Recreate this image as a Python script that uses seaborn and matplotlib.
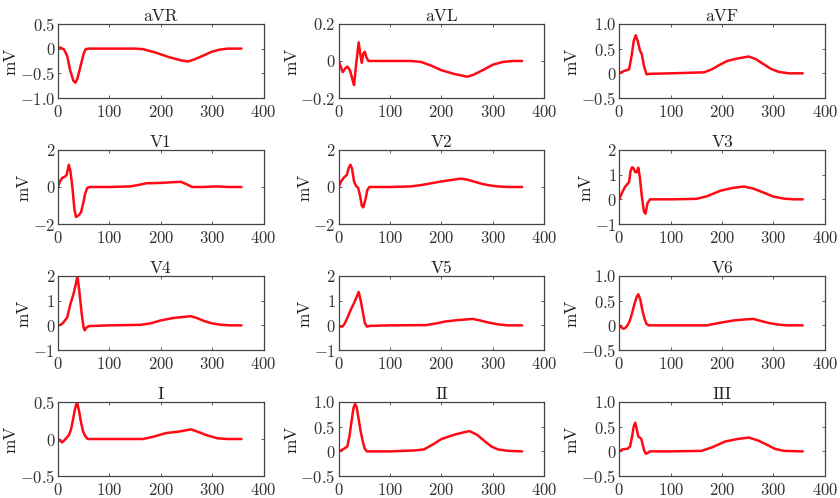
import matplotlib
matplotlib.use("Agg")
import matplotlib.pyplot as plt
import seaborn as sns

leads = ["aVR", "aVL", "aVF", "V1", "V2", "V3", "V4", "V5", "V6", "I", "II", "III"]

avr_x = [0, 5, 12, 18, 24, 30, 34, 38, 44, 50, 54, 60, 100, 150, 165, 190, 215, 240, 253, 265, 285, 300, 315, 330, 357]
avr_y = [0.02, 0.02, -0.02, -0.15, -0.45, -0.65, -0.69, -0.6, -0.35, -0.1, -0.01, 0, 0, 0, -0.01, -0.08, -0.17, -0.24, -0.26, -0.22, -0.13, -0.06, -0.02, 0, 0]

avl_x = [0, 4, 8, 13, 17, 22, 27, 30, 34, 39, 42, 45, 48, 51, 54, 58, 100, 140, 160, 180, 200, 225, 250, 262, 280, 300, 320, 340, 357]
avl_y = [0, -0.03, -0.06, -0.04, -0.03, -0.05, -0.1, -0.13, -0.02, 0.1, 0.04, -0.01, 0.04, 0.05, 0.02, 0, 0, 0, -0.005, -0.025, -0.05, -0.07, -0.085, -0.075, -0.05, -0.02, -0.005, 0, 0]

avf_x = [0, 10, 19, 24, 28, 32, 36, 40, 44, 48, 53, 60, 100, 165, 180, 195, 210, 230, 252, 265, 280, 295, 310, 330, 357]
avf_y = [0, 0.05, 0.08, 0.35, 0.65, 0.77, 0.65, 0.47, 0.38, 0.15, -0.02, -0.01, 0, 0.02, 0.08, 0.17, 0.25, 0.3, 0.34, 0.29, 0.19, 0.09, 0.03, 0.0, 0]

v1_x = [0, 4, 8, 14, 17, 21, 24, 28, 32, 35, 39, 42, 45, 49, 53, 57, 62, 100, 140, 155, 172, 200, 225, 239, 250, 261, 280, 310, 330, 357]
v1_y = [0, 0.3, 0.48, 0.57, 0.65, 1.2, 0.9, 0.0, -1.2, -1.62, -1.55, -1.48, -1.35, -0.9, -0.35, -0.05, 0, 0, 0.03, 0.1, 0.2, 0.22, 0.26, 0.28, 0.15, 0, 0, 0.03, 0, 0]

v2_x = [0, 5, 10, 16, 20, 23, 26, 30, 34, 38, 42, 45, 48, 52, 56, 60, 100, 140, 160, 180, 200, 220, 237, 250, 265, 280, 295, 310, 330, 357]
v2_y = [0, 0.3, 0.5, 0.65, 1.05, 1.2, 1.0, 0.3, 0.05, -0.05, -0.5, -1.0, -1.1, -0.7, -0.15, 0, 0, 0.03, 0.1, 0.2, 0.3, 0.38, 0.45, 0.4, 0.28, 0.16, 0.08, 0.03, 0, 0]

v3_x = [0, 5, 11, 16, 19, 22, 25, 28, 31, 34, 37, 40, 44, 48, 51, 55, 60, 100, 150, 170, 197, 220, 242, 260, 280, 300, 320, 340, 357]
v3_y = [0, 0.25, 0.5, 0.62, 0.7, 1.15, 1.3, 1.25, 1.1, 1.1, 1.28, 0.9, 0.1, -0.5, -0.58, -0.15, 0, 0, 0.02, 0.12, 0.35, 0.46, 0.52, 0.44, 0.28, 0.11, 0.03, 0, 0]

v4_x = [0, 5, 10, 18, 24, 30, 34, 38, 42, 46, 50, 52, 55, 60, 100, 160, 180, 200, 225, 258, 270, 285, 300, 315, 335, 357]
v4_y = [0, 0.02, 0.1, 0.32, 0.85, 1.25, 1.6, 2.0, 1.3, 0.5, -0.1, -0.2, -0.1, -0.03, 0, 0.02, 0.08, 0.2, 0.3, 0.37, 0.3, 0.17, 0.08, 0.03, 0, 0]

v5_x = [0, 4, 8, 12, 17, 24, 30, 35, 39, 43, 47, 51, 55, 62, 100, 170, 190, 206, 230, 261, 275, 290, 310, 330, 357]
v5_y = [-0.03, -0.05, -0.04, 0.08, 0.3, 0.65, 0.9, 1.15, 1.35, 1.0, 0.55, 0.1, -0.05, -0.02, 0, 0.01, 0.08, 0.15, 0.21, 0.26, 0.2, 0.12, 0.04, 0, 0]

v6_x = [0, 4, 8, 12, 16, 20, 25, 30, 34, 37, 41, 45, 49, 53, 57, 62, 100, 170, 195, 223, 245, 261, 275, 290, 306, 325, 357]
v6_y = [0, -0.04, -0.07, -0.05, 0, 0.08, 0.25, 0.45, 0.58, 0.63, 0.52, 0.3, 0.14, 0.03, 0, 0, 0, 0.0, 0.05, 0.1, 0.12, 0.13, 0.09, 0.05, 0.02, 0, 0]

i_x = [0, 4, 8, 12, 16, 21, 25, 29, 33, 37, 41, 45, 49, 53, 58, 100, 165, 185, 210, 235, 259, 275, 290, 310, 330, 357]
i_y = [0, -0.02, -0.045, -0.02, 0.01, 0.05, 0.12, 0.25, 0.4, 0.5, 0.38, 0.22, 0.1, 0.04, 0, 0, 0, 0.03, 0.08, 0.1, 0.13, 0.09, 0.05, 0.01, 0, 0]

ii_x = [0, 5, 10, 17, 21, 25, 29, 32, 35, 39, 43, 47, 51, 55, 60, 100, 150, 166, 185, 200, 226, 245, 255, 270, 285, 297, 310, 330, 357]
ii_y = [0, 0.02, 0.05, 0.1, 0.3, 0.6, 0.88, 0.96, 0.9, 0.65, 0.4, 0.2, 0.05, 0, 0, 0, 0.02, 0.04, 0.15, 0.25, 0.34, 0.39, 0.41, 0.33, 0.2, 0.1, 0.04, 0.01, 0]

iii_x = [0, 6, 12, 16, 21, 25, 28, 31, 34, 37, 40, 43, 46, 49, 52, 55, 60, 100, 160, 180, 206, 230, 252, 270, 290, 303, 320, 357]
iii_y = [0, 0.04, 0.05, 0.05, 0.1, 0.3, 0.5, 0.58, 0.45, 0.3, 0.28, 0.25, 0.12, 0.0, -0.05, -0.03, 0, 0, 0.01, 0.08, 0.2, 0.25, 0.28, 0.22, 0.12, 0.05, 0.01, 0]

xs = [avr_x, avl_x, avf_x, v1_x, v2_x, v3_x, v4_x, v5_x, v6_x, i_x, ii_x, iii_x]
ys = [avr_y, avl_y, avf_y, v1_y, v2_y, v3_y, v4_y, v5_y, v6_y, i_y, ii_y, iii_y]

x_ticks = [0, 100, 200, 300, 400]
x_ticklabels = ["0", "100", "200", "300", "400"]

y_ticks = [
    [-1.0, -0.5, 0, 0.5],
    [-0.2, 0, 0.2],
    [-0.5, 0, 0.5, 1.0],
    [-2, 0, 2],
    [-2, 0, 2],
    [-1, 0, 1, 2],
    [-1, 0, 1, 2],
    [-1, 0, 1, 2],
    [-0.5, 0, 0.5, 1.0],
    [-0.5, 0, 0.5],
    [-0.5, 0, 0.5, 1.0],
    [-0.5, 0, 0.5, 1.0],
]
y_ticklabels = [
    ["-1.0", "-0.5", "0", "0.5"],
    ["-0.2", "0", "0.2"],
    ["-0.5", "0", "0.5", "1.0"],
    ["-2", "0", "2"],
    ["-2", "0", "2"],
    ["-1", "0", "1", "2"],
    ["-1", "0", "1", "2"],
    ["-1", "0", "1", "2"],
    ["-0.5", "0", "0.5", "1.0"],
    ["-0.5", "0", "0.5"],
    ["-0.5", "0", "0.5", "1.0"],
    ["-0.5", "0", "0.5", "1.0"],
]

sns.set_theme(style="ticks")
plt.rcParams["font.family"] = ["cmr10", "DejaVu Serif"]
plt.rcParams["mathtext.fontset"] = "cm"
plt.rcParams["axes.unicode_minus"] = False

fig, axes = plt.subplots(4, 3, figsize=(8.4, 4.98), dpi=100)
fig.subplots_adjust(left=0.069, right=0.982, top=0.952, bottom=0.044,
                    wspace=0.365, hspace=0.70)

edge = "#444444"
for k, ax in enumerate(axes.flat):
    sns.lineplot(x=xs[k], y=ys[k], ax=ax, color="#ff0a14", linewidth=1.8)
    ax.set_xlim(0, 400)
    yt = y_ticks[k]
    ax.set_ylim(yt[0], yt[-1])
    ax.set_xticks(x_ticks)
    ax.set_xticklabels(["$" + t + "$" for t in x_ticklabels], fontsize=12, color="#333333")
    ax.set_yticks(yt)
    ax.set_yticklabels(["$" + t + "$" for t in y_ticklabels[k]], fontsize=12, color="#333333")
    ax.tick_params(direction="in", length=2.5, width=0.6, top=True, right=True,
                   colors=edge, pad=2)
    ax.tick_params(axis="x", pad=4)
    ax.tick_params(axis="both", labelcolor="#333333")
    for s in ax.spines.values():
        s.set_visible(True)
        s.set_color(edge)
        s.set_linewidth(0.9)
    ax.set_title(leads[k], fontsize=12.5, pad=2, color="#222222")
    ax.set_ylabel("mV", fontsize=12.5, labelpad=1, color="#222222")
    ax.set_facecolor("white")

fig.savefig("out.png", dpi=100, facecolor="white")
